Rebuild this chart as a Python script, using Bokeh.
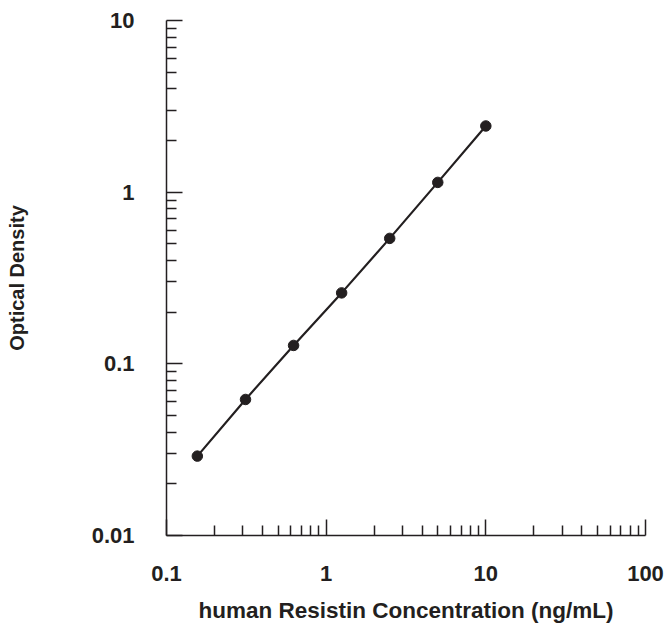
from bokeh.plotting import figure
from bokeh.models import FixedTicker, Range1d
from bokeh.embed import file_html
from bokeh.resources import INLINE

# Data
conc = [0.156, 0.3125, 0.625, 1.25, 2.5, 5, 10]
od = [0.029, 0.062, 0.128, 0.259, 0.538, 1.14, 2.43]

x_ticks = [0.1, 1, 10, 100]
x_tick_labels = ["0.1", "1", "10", "100"]
y_ticks = [0.01, 0.1, 1, 10]
y_tick_labels = ["0.01", "0.1", "1", "10"]

def minors(majors):
    out = []
    for m in majors[:-1]:
        out += [m * k for k in range(2, 10)]
    return out

INK = "#231f20"
FONT = "Liberation Sans"

p = figure(width=666, height=625, x_axis_type="log", y_axis_type="log",
           x_range=Range1d(0.1, 100), y_range=Range1d(0.01, 10),
           output_backend="svg", toolbar_location=None,
           min_border_left=166, min_border_right=21, min_border_top=20, min_border_bottom=86)
p.outline_line_color = None
p.grid.visible = False
p.background_fill_color = "white"
p.border_fill_color = "white"

p.line(conc, od, line_color=INK, line_width=2.2)
p.scatter(conc, od, size=10.5, fill_color=INK, line_color=INK)

p.xaxis.ticker = FixedTicker(ticks=x_ticks, minor_ticks=minors(x_ticks))
p.yaxis.ticker = FixedTicker(ticks=y_ticks, minor_ticks=minors(y_ticks))
p.xaxis.major_label_overrides = {t: l for t, l in zip(x_ticks, x_tick_labels)}
p.yaxis.major_label_overrides = {t: l for t, l in zip(y_ticks, y_tick_labels)}

for ax in (p.xaxis[0], p.yaxis[0]):
    ax.axis_line_color = INK
    ax.axis_line_width = 1.5
    ax.major_tick_line_color = INK
    ax.minor_tick_line_color = INK
    ax.major_tick_line_width = 1.5
    ax.minor_tick_line_width = 1.5
    ax.major_tick_in = 16
    ax.major_tick_out = 0
    ax.minor_tick_in = 10
    ax.minor_tick_out = 0
    ax.major_label_text_font = FONT
    ax.major_label_text_font_style = "bold"
    ax.major_label_text_font_size = "22px"
    ax.major_label_text_color = INK
    ax.axis_label_text_font = FONT
    ax.axis_label_text_font_style = "bold"
    ax.axis_label_text_color = INK

p.xaxis.axis_label = "human Resistin Concentration (ng/mL)"
p.yaxis.axis_label = "Optical Density"
p.xaxis.axis_label_text_font_size = "22.5px"
p.yaxis.axis_label_text_font_size = "20px"
p.xaxis.major_label_standoff = 30
p.yaxis.major_label_standoff = 32
p.xaxis.axis_label_standoff = 14
p.yaxis.axis_label_standoff = 61

open("out.html", "w").write(file_html(p, INLINE))
